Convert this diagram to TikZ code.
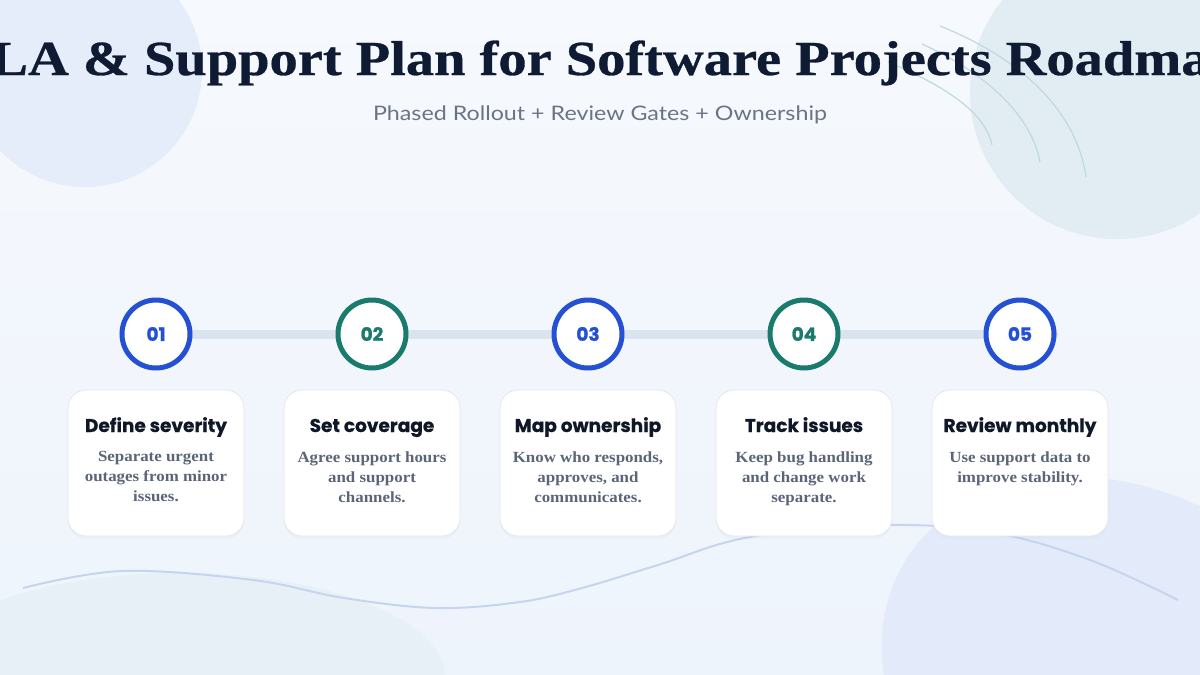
\documentclass[tikz,border=0pt]{standalone}
\usepackage{fontspec}
\usepackage{graphicx}
\setmainfont{Liberation Serif}
\newfontfamily\titlefont[BoldFeatures={FakeBold=0.6}]{Liberation Serif}
\newfontfamily\descfont[FakeStretch=1.09]{Liberation Serif}
\newfontfamily\subfont{Lato}
\newfontfamily\headfont[BoldFeatures={FakeBold=0.7}]{Poppins}
\newfontfamily\numfont[BoldFeatures={FakeBold=1.2}]{Poppins}
\usetikzlibrary{shadows}
\definecolor{bgTop}{HTML}{F6F9FD}
\definecolor{bgBot}{HTML}{EEF4FC}
\definecolor{blobTL}{HTML}{E5ECFA}
\definecolor{blobTR}{HTML}{E1EDF2}
\definecolor{blobBL}{HTML}{E6F0F6}
\definecolor{blobBR}{HTML}{E3EBFA}
\definecolor{arcC}{HTML}{BFDADB}
\definecolor{waveC}{HTML}{C6D4F0}
\definecolor{trackC}{HTML}{DBE3EE}
\definecolor{blueC}{HTML}{2451D4}
\definecolor{tealC}{HTML}{1A7A6D}
\definecolor{titleC}{HTML}{0F1B33}
\definecolor{subC}{HTML}{6B7485}
\definecolor{headC}{HTML}{101828}
\definecolor{descC}{HTML}{5B6577}
\definecolor{cardLine}{HTML}{E2E8F0}
\pgfdeclarelayer{bg}
\pgfdeclarelayer{trk}
\pgfsetlayers{bg,trk,main}
\begin{document}
\begin{tikzpicture}[x=1pt,y=-1pt,
  stepcircle/.style={circle, fill=white, line width=5pt, minimum size=68pt, inner sep=0pt, outer sep=0pt,
    font=\numfont\bfseries\fontsize{18.5}{20}\selectfont},
  card/.style={rounded corners=18pt, fill=white, draw=cardLine, line width=0.8pt,
    minimum width=176pt, minimum height=146pt, inner sep=0pt,
    drop shadow={opacity=0.04, shadow xshift=0pt, shadow yshift=-3pt}},
  cardtitle/.style={text=headC, inner sep=0pt, font=\headfont\bfseries\fontsize{18.5}{22}\selectfont},
  carddesc/.style={text=descC, inner sep=0pt, align=center, font=\descfont\bfseries\fontsize{15.5}{20}\selectfont},
  track/.style={draw=trackC, line width=9pt, line cap=round},
  arcline/.style={draw=arcC, line width=1.2pt},
  wave/.style={draw=waveC, line width=2pt}
]
\useasboundingbox (0,0) rectangle (1200,675);
\begin{pgfonlayer}{bg}
  \shade[top color=bgTop, bottom color=bgBot] (0,0) rectangle (1200,675);
  \begin{scope}
    \clip (0,0) rectangle (1200,675);
    \fill[blobTL] (85,70) circle[radius=117];
    \fill[blobTR] (1117,92) circle[radius=147];
    \fill[blobBL] (180,677) ellipse[x radius=265, y radius=104];
    \fill[blobBR, rotate around={-30:(1124,692)}] (1124,692) ellipse[x radius=255, y radius=200];
    \draw[arcline] (940,26) .. controls (1030,62) and (1078,118) .. (1086,177);
    \draw[arcline] (922,44) .. controls (990,75) and (1032,118) .. (1040,162);
    \draw[arcline] (888,62) .. controls (945,86) and (985,112) .. (992,145);
    \draw[wave] plot[smooth, tension=0.6] coordinates {(23,588) (122,571) (253,580) (344,598) (436,608) (520,602) (582,588) (658,565) (750,537) (888,525) (995,533) (1090,560) (1178,600)};
  \end{scope}
\end{pgfonlayer}

\node[anchor=base, text=titleC, inner sep=0pt] (title) at (600,75)
  {\resizebox{1282pt}{\height}{\titlefont\bfseries\fontsize{49}{55}\selectfont SLA \& Support Plan for Software Projects Roadmap}};
\node[anchor=base, text=subC, inner sep=0pt] (subtitle) at (600,120)
  {\resizebox{454pt}{\height}{\subfont\fontsize{20}{24}\selectfont Phased Rollout + Review Gates + Ownership}};

\foreach \i/\cc/\ttl/\dsc in {
  1/blueC/{Define severity}/{Separate urgent\\outages from minor\\issues.},
  2/tealC/{Set coverage}/{Agree support hours\\and support\\channels.},
  3/blueC/{Map ownership}/{Know who responds,\\approves, and\\communicates.},
  4/tealC/{Track issues}/{Keep bug handling\\and change work\\separate.},
  5/blueC/{Review monthly}/{Use support data to\\improve stability.}}{
  \pgfmathsetmacro\xx{156+216*(\i-1)}
  \node[stepcircle, draw=\cc, text=\cc] (circ\i) at (\xx,334) {0\i};
  \node[card] (card\i) at (\xx,463) {};
  \node[cardtitle, anchor=base] (head\i) at (\xx,432) {\ttl};
  \node[carddesc, anchor=north] (desc\i) at (\xx,451.5) {\dsc};
}

\begin{pgfonlayer}{trk}
  \draw[track] (circ1.center) -- (circ5.east);
\end{pgfonlayer}
\end{tikzpicture}
\end{document}
